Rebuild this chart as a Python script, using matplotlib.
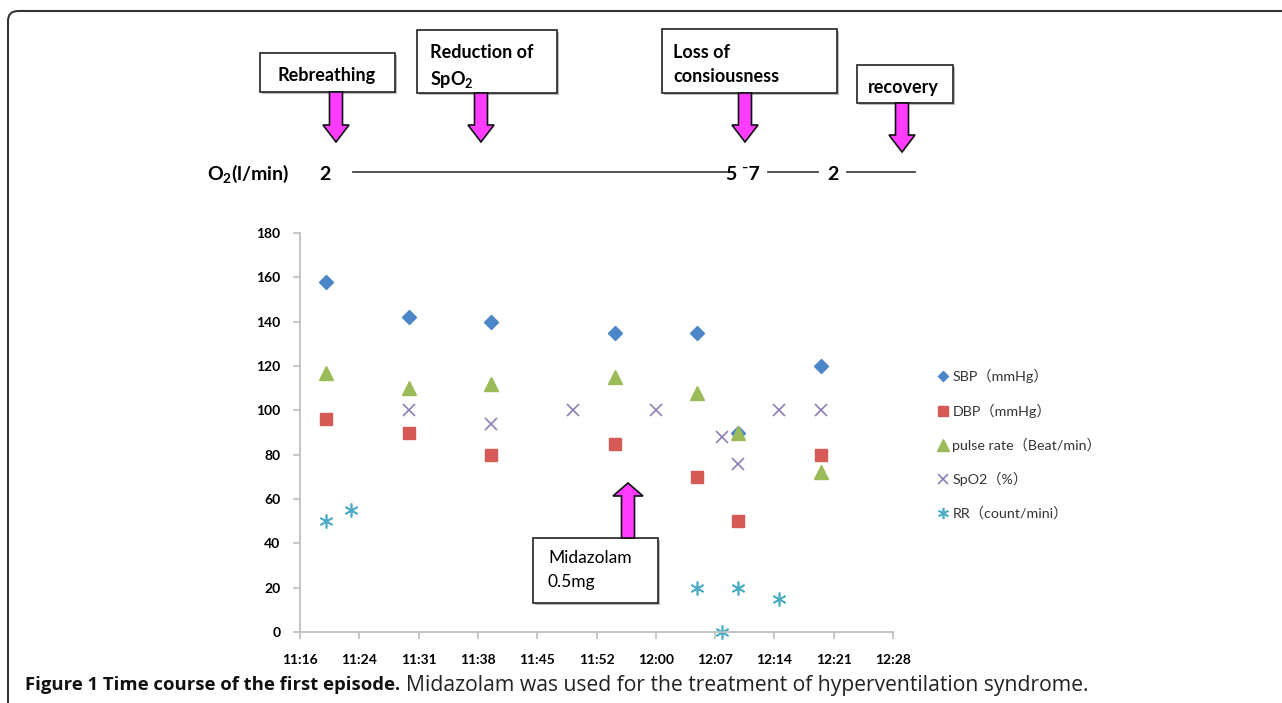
import matplotlib as mpl
mpl.use('Agg')
import matplotlib.pyplot as plt
import numpy as np
from matplotlib.patches import Rectangle, Polygon, FancyBboxPatch
from matplotlib.lines import Line2D
from matplotlib.transforms import Affine2D

plt.rcParams['font.family'] = ['Lato', 'DejaVu Sans']
plt.rcParams['mathtext.fontset'] = 'custom'
plt.rcParams['mathtext.rm'] = 'Lato'
plt.rcParams['mathtext.bf'] = 'Lato:bold'
plt.rcParams['mathtext.default'] = 'regular'

# data: time in minutes after 11:00
t_bp = [20, 30, 40, 55, 65, 70, 80]
sbp = [158, 142, 140, 135, 135, 90, 120]
dbp = [96, 90, 80, 85, 70, 50, 80]
pulse = [117, 110, 112, 115, 108, 90, 72]
t_spo2 = [30, 40, 50, 60, 68, 70, 75, 80]
spo2 = [100, 94, 100, 100, 88, 76, 100, 100]
t_rr = [20, 23, 65, 68, 70, 75]
rr = [50, 55, 20, 0, 20, 15]

xticklabels = ['11:16', '11:24', '11:31', '11:38', '11:45', '11:52',
               '12:00', '12:07', '12:14', '12:21', '12:28']
labels = ['SBP（mmHg）', 'DBP（mmHg）', 'pulse rate（Beat/min）', 'SpO2（%）', 'RR（count/mini）']

W, H = 1282, 703
fig = plt.figure(figsize=(W / 100, H / 100), dpi=100)
# pixel transform (y measured from top)
pix = Affine2D().scale(1 / W, -1 / H).translate(0, 1) + fig.transFigure

ax = fig.add_axes([300 / W, 1 - 632 / H, (893 - 300) / W, (632 - 233) / H])
ax.plot(t_bp, sbp, 'D', color='#4A86C8', ms=7, label=labels[0])
ax.plot(t_bp, dbp, 's', color='#D65A55', ms=9, label=labels[1])
ax.plot(t_bp, pulse, '^', color='#9BBB59', ms=10, label=labels[2])
ax.plot(t_spo2, spo2, 'x', color='#8F7FB5', ms=9, mew=1.2, label=labels[3])
ax.plot(t_rr, rr, marker=(6, 2, 0), ls='none', color='#4BACC6', ms=10, mew=1.2, label=labels[4])

ax.set_xlim(16.8, 88.8)
ax.set_ylim(0, 180)
ax.set_xticks(np.arange(11) * 7.2 + 16.8)
ax.set_xticklabels(xticklabels)
ax.set_yticks(range(0, 181, 20))
for s in ['top', 'right']:
    ax.spines[s].set_visible(False)
for s in ['left', 'bottom']:
    ax.spines[s].set_color('#BFBFBF')
    ax.spines[s].set_linewidth(1.3)
ax.tick_params(axis='both', colors='#BFBFBF', labelcolor='black', length=5, width=1.2,
               labelsize=10)
ax.tick_params(axis='x', pad=11)
ax.tick_params(axis='y', pad=9)
for lab in ax.get_xticklabels() + ax.get_yticklabels():
    lab.set_fontweight('bold')
for ln in ax.lines:
    ln.set_clip_on(False)

leg = fig.legend(loc='upper left', bbox_to_anchor=(926 / W, 1 - 359 / H), frameon=False,
                 labelspacing=1.4, handletextpad=0.15, handlelength=1.0,
                 markerscale=0.8, borderpad=0.2,
                 prop={'family': ['Lato', 'Noto Sans CJK JP'], 'size': 10.3})
for txt in leg.get_texts():
    txt.set_color('#333333')

# outer frame
fig.add_artist(FancyBboxPatch((8, 11), 1300, 720, boxstyle='round,pad=0,rounding_size=10',
                              transform=pix, fc='none', ec='#333333', lw=1.5))


def box(x0, y0, x1, y1):
    fig.add_artist(Rectangle((x0 + 2, y0 + 2), x1 - x0, y1 - y0, transform=pix,
                             fc='#BBBBBB', ec='none'))
    fig.add_artist(Rectangle((x0, y0), x1 - x0, y1 - y0, transform=pix,
                             fc='white', ec='#222222', lw=1.2))


def arrow(cx, y0, y1, hw=13, sw=6.5, hl=17):
    d = 1 if y1 > y0 else -1
    yb = y1 - d * hl
    pts = [(cx - sw, y0), (cx + sw, y0), (cx + sw, yb), (cx + hw, yb), (cx, y1),
           (cx - hw, yb), (cx - sw, yb)]
    fig.add_artist(Polygon(pts, closed=True, transform=pix, fc='#FF3CFF', ec='#111111', lw=1.2))


box(260, 53, 395, 92)
fig.text(327 / W, 1 - 75 / H, 'Rebreathing', ha='center', va='center', fontsize=13, fontweight='bold')
arrow(336, 92, 142)

box(417, 30, 557, 93)
fig.text(430 / W, 1 - 52 / H, 'Reduction of', va='center', fontsize=13, fontweight='bold')
fig.text(430 / W, 1 - 79 / H, 'SpO$_2$', va='center', fontsize=13, fontweight='bold')
arrow(481, 93, 142)

box(662, 29, 837, 93)
fig.text(673 / W, 1 - 52 / H, 'Loss of', va='center', fontsize=13, fontweight='bold')
fig.text(673 / W, 1 - 77 / H, 'consiousness', va='center', fontsize=13, fontweight='bold')
arrow(745, 93, 142)

box(857, 65, 953, 103)
fig.text(868 / W, 1 - 87 / H, 'recovery', va='center', fontsize=13, fontweight='bold')
arrow(902, 103, 152)

box(533, 538, 658, 603)
fig.text(548 / W, 1 - 558 / H, 'Midazolam', va='center', fontsize=12.5)
fig.text(548 / W, 1 - 582 / H, '0.5mg', va='center', fontsize=12.5)
arrow(628, 538, 483, hw=15, sw=6.5, hl=13)

# O2 flow row
fig.text(290 / W, 1 - 174 / H, 'O$_2$(l/min)', ha='right', va='center', fontsize=14, fontweight='bold')
fig.text(325 / W, 1 - 174 / H, '2', ha='center', va='center', fontsize=14, fontweight='bold')
fig.text(743 / W, 1 - 174 / H, '5 ⁻7', ha='center', va='center', fontsize=14, fontweight='bold')
fig.text(833 / W, 1 - 174 / H, '2', ha='center', va='center', fontsize=14, fontweight='bold')
for x0, x1 in [(353, 727), (768, 818), (847, 915)]:
    fig.add_artist(Line2D([x0, x1], [172, 172], transform=pix, color='#333333', lw=1.2))

# caption
cap = fig.text(25 / W, 1 - 685 / H, 'Figure 1 Time course of the first episode.', va='center',
               fontsize=13.3, fontweight='bold', color='#111111', family='Open Sans')
fig.canvas.draw()
bb = cap.get_window_extent()
fig.text((bb.x1 + 6) / W, 1 - 685 / H,
         'Midazolam was used for the treatment of hyperventilation syndrome.',
         va='center', fontsize=15.2, color='#222222', family='Open Sans')

fig.savefig('out.png', dpi=100)
